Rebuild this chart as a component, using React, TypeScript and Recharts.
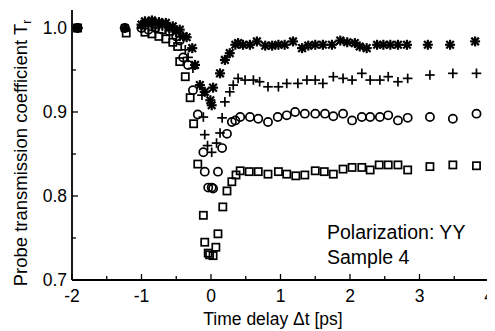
import React from 'react';
import { ScatterChart, Scatter, XAxis, YAxis } from 'recharts';

// delay (ps) and probe transmission for each pump intensity series
const starDelay = [-1.92, -1.24, -1.0, -0.95, -0.9, -0.85, -0.8, -0.75, -0.7, -0.65, -0.6, -0.55, -0.5, -0.45, -0.4, -0.35, -0.27, -0.23, -0.16, -0.09, -0.01, 0.01, 0.03, 0.13, 0.2, 0.27, 0.35, 0.39, 0.46, 0.56, 0.66, 0.78, 0.88, 0.97, 1.06, 1.18, 1.31, 1.4, 1.5, 1.61, 1.74, 1.86, 1.96, 2.07, 2.14, 2.24, 2.39, 2.48, 2.58, 2.69, 2.82, 3.12, 3.44, 3.8];
const starT = [1.0, 1.0, 1.004, 1.008, 1.006, 1.009, 1.005, 1.007, 1.004, 1.006, 1.0, 1.002, 0.996, 0.998, 0.99, 0.989, 0.976, 0.956, 0.932, 0.924, 0.914, 0.908, 0.929, 0.946, 0.962, 0.97, 0.98, 0.982, 0.98, 0.98, 0.984, 0.979, 0.979, 0.98, 0.98, 0.984, 0.976, 0.979, 0.98, 0.98, 0.98, 0.985, 0.983, 0.982, 0.978, 0.976, 0.98, 0.98, 0.98, 0.98, 0.98, 0.98, 0.98, 0.984];

const plusDelay = [-1.92, -1.24, -1.0, -0.9, -0.8, -0.7, -0.6, -0.5, -0.45, -0.37, -0.33, -0.26, -0.13, -0.11, -0.09, -0.05, 0.01, 0.08, 0.13, 0.16, 0.2, 0.27, 0.32, 0.39, 0.49, 0.61, 0.7, 0.82, 0.97, 1.09, 1.25, 1.38, 1.5, 1.61, 1.76, 1.9, 2.03, 2.17, 2.29, 2.43, 2.55, 2.69, 2.83, 3.15, 3.48, 3.82];
const plusT = [1.0, 1.0, 1.0, 1.003, 1.0, 1.002, 0.997, 0.995, 0.99, 0.974, 0.965, 0.952, 0.92, 0.894, 0.873, 0.86, 0.852, 0.863, 0.875, 0.893, 0.912, 0.924, 0.932, 0.94, 0.938, 0.938, 0.936, 0.93, 0.93, 0.934, 0.934, 0.938, 0.938, 0.934, 0.942, 0.94, 0.938, 0.946, 0.938, 0.938, 0.942, 0.936, 0.94, 0.944, 0.946, 0.946];

const circleDelay = [-1.92, -1.24, -1.0, -0.9, -0.8, -0.7, -0.6, -0.5, -0.45, -0.4, -0.33, -0.26, -0.19, -0.11, -0.09, -0.04, 0.01, 0.03, 0.1, 0.16, 0.23, 0.3, 0.35, 0.42, 0.56, 0.68, 0.82, 0.96, 1.09, 1.21, 1.35, 1.5, 1.64, 1.76, 1.9, 2.03, 2.17, 2.29, 2.43, 2.55, 2.69, 2.83, 3.15, 3.48, 3.82];
const circleT = [1.0, 1.0, 1.0, 0.998, 1.0, 0.998, 0.996, 0.99, 0.985, 0.965, 0.956, 0.926, 0.897, 0.852, 0.829, 0.81, 0.81, 0.809, 0.829, 0.857, 0.874, 0.888, 0.89, 0.894, 0.894, 0.892, 0.888, 0.894, 0.896, 0.9, 0.898, 0.898, 0.898, 0.895, 0.898, 0.89, 0.894, 0.894, 0.894, 0.896, 0.89, 0.893, 0.894, 0.892, 0.898];

const squareDelay = [-1.92, -1.22, -0.95, -0.85, -0.75, -0.65, -0.55, -0.48, -0.45, -0.37, -0.3, -0.25, -0.19, -0.11, -0.09, -0.04, -0.02, 0.03, 0.07, 0.1, 0.17, 0.23, 0.3, 0.36, 0.42, 0.55, 0.68, 0.82, 0.97, 1.09, 1.22, 1.35, 1.5, 1.63, 1.76, 1.9, 2.03, 2.17, 2.29, 2.42, 2.55, 2.69, 2.83, 3.15, 3.48, 3.82];
const squareT = [1.0, 0.994, 0.995, 0.993, 0.99, 0.987, 0.983, 0.978, 0.96, 0.942, 0.917, 0.886, 0.838, 0.777, 0.745, 0.732, 0.73, 0.729, 0.739, 0.755, 0.787, 0.806, 0.817, 0.825, 0.83, 0.829, 0.829, 0.826, 0.829, 0.826, 0.824, 0.825, 0.83, 0.829, 0.826, 0.832, 0.834, 0.834, 0.831, 0.837, 0.837, 0.837, 0.831, 0.835, 0.837, 0.836];

const xTicks = [-2, -1.5, -1, -0.5, 0, 0.5, 1, 1.5, 2, 2.5, 3, 3.5, 4];
const yTicks = [0.7, 0.75, 0.8, 0.85, 0.9, 0.95, 1.0];

const zip = (xs: number[], ys: number[]) => xs.map((x, i) => ({ x, y: ys[i] }));

const FONT = '"Liberation Sans", Arial, sans-serif';
const INK = '#000';

const isMajorX = (v: number) => Math.abs(v - Math.round(v)) < 1e-6;
const isMajorY = (v: number) => Math.abs(v * 10 - Math.round(v * 10)) < 1e-6;

const BottomTick = (props: any) => {
  const { x, y, payload } = props;
  const major = isMajorX(payload.value);
  return (
    <g>
      <line x1={x} y1={y} x2={x} y2={y - (major ? 6 : 4)} stroke={INK} strokeWidth={1.3} />
      {major && (
        <text x={x} y={y + 22} textAnchor="middle" fontSize={17.5} fontFamily={FONT} fill={INK}>
          {payload.value}
        </text>
      )}
    </g>
  );
};

const TopTick = (props: any) => {
  const { x, y, payload } = props;
  const major = isMajorX(payload.value);
  return <line x1={x} y1={y} x2={x} y2={y + (major ? 6 : 4)} stroke={INK} strokeWidth={1.3} />;
};

const LeftTick = (props: any) => {
  const { x, y, payload } = props;
  const major = isMajorY(payload.value);
  return (
    <g>
      <line x1={x} y1={y} x2={x + (major ? 6 : 4)} y2={y} stroke={INK} strokeWidth={1.3} />
      {major && (
        <text x={x - 5} y={y + 6} textAnchor="end" fontSize={17.5} fontFamily={FONT} fill={INK}>
          {payload.value.toFixed(1)}
        </text>
      )}
    </g>
  );
};

const RightTick = (props: any) => {
  const { x, y, payload } = props;
  const major = isMajorY(payload.value);
  return <line x1={x} y1={y} x2={x - (major ? 6 : 4)} y2={y} stroke={INK} strokeWidth={1.3} />;
};

const XTitle = () => (
  <text x={273} y={325} textAnchor="middle" fontSize={17.5} fontFamily={FONT} fill={INK}>
    Time delay Δt [ps]
  </text>
);

const Star = ({ cx, cy }: any) => (
  <g stroke={INK} strokeWidth={2.2}>
    <line x1={cx} y1={cy - 5} x2={cx} y2={cy + 5} />
    <line x1={cx - 5} y1={cy} x2={cx + 5} y2={cy} />
    <line x1={cx - 3.8} y1={cy - 3.8} x2={cx + 3.8} y2={cy + 3.8} />
    <line x1={cx - 3.8} y1={cy + 3.8} x2={cx + 3.8} y2={cy - 3.8} />
  </g>
);

const Plus = ({ cx, cy }: any) => (
  <g stroke={INK} strokeWidth={1.7}>
    <line x1={cx} y1={cy - 4.8} x2={cx} y2={cy + 4.8} />
    <line x1={cx - 4.8} y1={cy} x2={cx + 4.8} y2={cy} />
  </g>
);

const Ring = ({ cx, cy }: any) => (
  <circle cx={cx} cy={cy} r={4.1} fill="none" stroke={INK} strokeWidth={1.7} />
);

const Box = ({ cx, cy }: any) => (
  <rect x={cx - 3.6} y={cy - 3.6} width={7.2} height={7.2} fill="none" stroke={INK} strokeWidth={1.7} />
);

export default function App() {
  return (
    <div style={{ position: 'relative', width: 495, height: 331, margin: '-8px 0 0 -8px', background: '#fff', fontFamily: FONT }}>
      <ScatterChart width={495} height={331} margin={{ top: 10, right: 6, bottom: 0, left: 0 }}>
        <XAxis
          type="number"
          dataKey="x"
          domain={[-2, 4]}
          ticks={xTicks}
          interval={0}
          allowDataOverflow
          height={51}
          tickSize={0}
          tickMargin={0}
          tickLine={false}
          axisLine={{ stroke: INK, strokeWidth: 1.8 }}
          tick={<BottomTick />}
          label={{ content: () => <XTitle /> }}
        />
        <XAxis
          xAxisId="top"
          orientation="top"
          type="number"
          dataKey="x"
          domain={[-2, 4]}
          ticks={xTicks}
          interval={0}
          allowDataOverflow
          height={0}
          tickSize={0}
          tickMargin={0}
          tickLine={false}
          axisLine={{ stroke: INK, strokeWidth: 1.8 }}
          tick={<TopTick />}
        />
        <YAxis
          type="number"
          dataKey="y"
          domain={[0.7, 1.0214]}
          ticks={yTicks}
          interval={0}
          allowDataOverflow
          width={72}
          tickSize={0}
          tickMargin={0}
          tickLine={false}
          axisLine={{ stroke: INK, strokeWidth: 1.8 }}
          tick={<LeftTick />}
        />
        <YAxis
          yAxisId="right"
          orientation="right"
          type="number"
          dataKey="y"
          domain={[0.7, 1.0214]}
          ticks={yTicks}
          interval={0}
          allowDataOverflow
          width={0}
          tickSize={0}
          tickMargin={0}
          tickLine={false}
          axisLine={{ stroke: INK, strokeWidth: 1.8 }}
          tick={<RightTick />}
        />
        <Scatter data={zip(squareDelay, squareT)} shape={(p: any) => <Box cx={p.cx} cy={p.cy} />} isAnimationActive={false} />
        <Scatter data={zip(circleDelay, circleT)} shape={(p: any) => <Ring cx={p.cx} cy={p.cy} />} isAnimationActive={false} />
        <Scatter data={zip(plusDelay, plusT)} shape={(p: any) => <Plus cx={p.cx} cy={p.cy} />} isAnimationActive={false} />
        <Scatter data={zip(starDelay, starT)} shape={(p: any) => <Star cx={p.cx} cy={p.cy} />} isAnimationActive={false} />
      </ScatterChart>

      <div style={{ position: 'absolute', left: 327, top: 220, fontSize: 19.5, lineHeight: '25px', color: INK, whiteSpace: 'nowrap' }}>
        <div>Polarization: YY</div>
        <div>Sample 4</div>
      </div>

      <div
        style={{
          position: 'absolute',
          left: 22,
          top: 153,
          transform: 'translate(-50%, -50%) rotate(-90deg)',
          fontSize: 18.5,
          color: INK,
          whiteSpace: 'nowrap',
        }}
      >
        Probe transmission coefficient T<sub style={{ fontSize: 12 }}>r</sub>
      </div>
    </div>
  );
}
